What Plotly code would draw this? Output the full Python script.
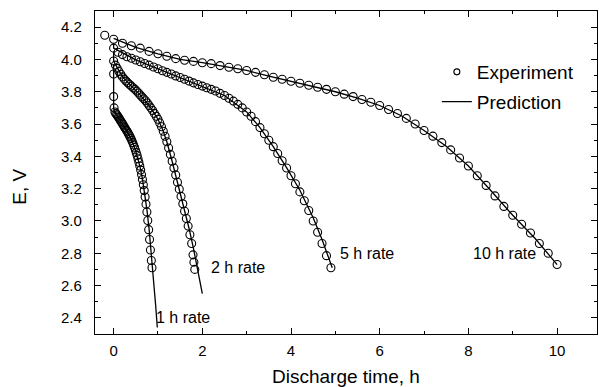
import plotly.graph_objects as go

# ---------------- data ----------------
# 10 h rate, experiment
t10_exp = [-0.2, 0.0, 0.2, 0.4, 0.6, 0.8, 1.0, 1.2, 1.4, 1.6, 1.8, 2.0, 2.2, 2.4, 2.6, 2.8,
           3.0, 3.2, 3.4, 3.6, 3.8, 4.0, 4.2, 4.4, 4.6, 4.8, 5.0, 5.2, 5.4, 5.6, 5.8, 6.0,
           6.2, 6.4, 6.6, 6.8, 7.0, 7.2, 7.4, 7.6, 7.8, 8.0, 8.2, 8.4, 8.6, 8.8, 9.0, 9.2,
           9.4, 9.6, 9.8, 10.0]
e10_exp = [4.15, 4.125, 4.10, 4.085, 4.07, 4.05, 4.035, 4.02, 4.005, 3.995, 3.988, 3.98,
           3.974, 3.962, 3.952, 3.942, 3.932, 3.92, 3.905, 3.89, 3.877, 3.865, 3.853, 3.84,
           3.828, 3.815, 3.80, 3.785, 3.77, 3.752, 3.735, 3.715, 3.69, 3.665, 3.635, 3.60,
           3.56, 3.525, 3.485, 3.44, 3.39, 3.34, 3.28, 3.22, 3.155, 3.09, 3.035, 2.98, 2.925,
           2.86, 2.80, 2.73]

# 5 h rate, experiment
t5_exp = [0.0, 0.1, 0.2, 0.3, 0.4, 0.5, 0.6, 0.7, 0.8, 0.9, 1.0, 1.1, 1.2, 1.3, 1.4, 1.5,
          1.6, 1.7, 1.8, 1.9, 2.0, 2.1, 2.2, 2.3, 2.4, 2.5, 2.6, 2.7, 2.8, 2.9, 3.0, 3.1,
          3.2, 3.3, 3.4, 3.5, 3.6, 3.7, 3.8, 3.9, 4.0, 4.1, 4.2, 4.3, 4.4, 4.5, 4.6, 4.7,
          4.8, 4.9]
e5_exp = [4.07, 4.045, 4.03, 4.017, 4.007, 3.997, 3.986, 3.975, 3.965, 3.953, 3.942, 3.93,
          3.92, 3.91, 3.898, 3.888, 3.877, 3.866, 3.855, 3.845, 3.835, 3.825, 3.815, 3.805,
          3.79, 3.777, 3.76, 3.742, 3.722, 3.70, 3.675, 3.648, 3.615, 3.578, 3.54, 3.50,
          3.46, 3.418, 3.373, 3.328, 3.28, 3.23, 3.18, 3.125, 3.065, 3.0, 2.93, 2.86, 2.785,
          2.71]

# 2 h rate, experiment
t2_exp = [0.00, 0.04, 0.08, 0.12, 0.16, 0.20, 0.24, 0.28, 0.32, 0.36, 0.40, 0.44, 0.48,
          0.52, 0.56, 0.60, 0.64, 0.68, 0.72, 0.76, 0.80, 0.84, 0.88, 0.92, 0.96, 1.00,
          1.04, 1.08, 1.12, 1.16, 1.20, 1.24, 1.28, 1.32, 1.36, 1.40, 1.44, 1.48, 1.52,
          1.56, 1.60, 1.64, 1.68, 1.72, 1.76, 1.79, 1.81, 1.83]
e2_exp = [3.99, 3.965, 3.945, 3.925, 3.908, 3.892, 3.878, 3.866, 3.855, 3.845, 3.835, 3.825,
          3.815, 3.804, 3.792, 3.78, 3.768, 3.756, 3.744, 3.73, 3.715, 3.70, 3.684, 3.666,
          3.648, 3.63, 3.607, 3.583, 3.555, 3.524, 3.49, 3.452, 3.412, 3.37, 3.328, 3.285,
          3.24, 3.197, 3.152, 3.106, 3.06, 3.015, 2.968, 2.915, 2.86, 2.79, 2.745, 2.70]

# 1 h rate, experiment
t1_exp = [0.00, 0.00, 0.01, 0.03, 0.05, 0.07, 0.09, 0.11, 0.13, 0.15, 0.17, 0.19, 0.21,
          0.23, 0.25, 0.27, 0.29, 0.31, 0.33, 0.35, 0.37, 0.39, 0.41, 0.43, 0.45, 0.47,
          0.49, 0.51, 0.53, 0.55, 0.57, 0.59, 0.61, 0.63, 0.65, 0.67, 0.69, 0.71, 0.73,
          0.75, 0.77, 0.79, 0.81, 0.83, 0.85, 0.865]
e1_exp = [3.91, 3.77, 3.70, 3.675, 3.665, 3.658, 3.65, 3.642, 3.633, 3.624, 3.615, 3.606,
          3.597, 3.588, 3.579, 3.57, 3.561, 3.552, 3.542, 3.532, 3.521, 3.51, 3.498, 3.485,
          3.471, 3.456, 3.44, 3.423, 3.405, 3.385, 3.363, 3.34, 3.315, 3.287, 3.257, 3.224,
          3.188, 3.148, 3.104, 3.056, 3.003, 2.946, 2.885, 2.82, 2.755, 2.71]

# predictions
t10_pred = [0.0, 0.5, 1.0, 1.5, 2.0, 2.5, 3.0, 3.5, 4.0, 4.5, 5.0, 5.5, 6.0, 6.5, 7.0, 7.5,
            8.0, 8.5, 9.0, 9.5, 10.0]
e10_pred = [4.13, 4.075, 4.035, 4.0, 3.98, 3.957, 3.932, 3.897, 3.865, 3.834, 3.80, 3.761,
            3.715, 3.65, 3.56, 3.462, 3.34, 3.19, 3.035, 2.893, 2.73]

t5_pred = [0.0, 0.0, 0.5, 1.0, 1.5, 2.0, 2.5, 3.0, 3.3, 3.6, 3.9, 4.2, 4.5, 4.7, 4.93]
e5_pred = [4.10, 4.07, 3.997, 3.942, 3.888, 3.835, 3.777, 3.675, 3.578, 3.46, 3.33, 3.19,
           3.02, 2.885, 2.71]

t2_pred = [0.0, 0.0, 0.1, 0.2, 0.4, 0.6, 0.8, 1.0, 1.1, 1.2, 1.3, 1.4, 1.5, 1.6, 1.7, 1.8,
           1.9, 2.0]
e2_pred = [4.05, 3.99, 3.94, 3.892, 3.835, 3.78, 3.715, 3.63, 3.57, 3.49, 3.39, 3.285,
           3.175, 3.065, 2.955, 2.83, 2.69, 2.55]

t1_pred = [0.0, 0.0, 0.02, 0.05, 0.1, 0.2, 0.3, 0.4, 0.5, 0.6, 0.65, 0.7, 0.75, 0.8, 0.85,
           0.87, 0.91, 0.95, 0.985]
e1_pred = [3.97, 3.70, 3.675, 3.663, 3.646, 3.60, 3.556, 3.505, 3.432, 3.33, 3.26, 3.17,
           3.07, 2.95, 2.80, 2.73, 2.60, 2.47, 2.34]

rate_labels = ["1 h rate", "2 h rate", "5 h rate", "10 h rate"]
label_x = [0.90, 2.14, 5.05, 8.06]
label_y = [2.40, 2.712, 2.80, 2.80]

x_ticks = [0, 2, 4, 6, 8, 10]
y_ticks = [2.4, 2.6, 2.8, 3.0, 3.2, 3.4, 3.6, 3.8, 4.0, 4.2]

FONT = "Liberation Sans, Arial, sans-serif"

fig = go.Figure()

for tx, ey in [(t10_exp, e10_exp), (t5_exp, e5_exp), (t2_exp, e2_exp), (t1_exp, e1_exp)]:
    fig.add_trace(go.Scatter(x=tx, y=ey, mode="markers", showlegend=False,
                             marker=dict(symbol="circle-open", size=8, color="black",
                                         line=dict(width=1.1, color="black"))))

for tx, ey in [(t10_pred, e10_pred), (t5_pred, e5_pred), (t2_pred, e2_pred), (t1_pred, e1_pred)]:
    fig.add_trace(go.Scatter(x=tx, y=ey, mode="lines", showlegend=False,
                             line=dict(color="black", width=1.3)))

# legend entries
fig.add_trace(go.Scatter(x=[None], y=[None], mode="markers", name="Experiment",
                         legendgroup="a",
                         marker=dict(symbol="circle-open", size=6, color="black",
                                     line=dict(width=1.1, color="black"))))
fig.add_trace(go.Scatter(x=[None], y=[None], mode="lines", name="Prediction",
                         legendgroup="b", line=dict(color="black", width=1.3)))

for txt, lx, ly in zip(rate_labels, label_x, label_y):
    fig.add_annotation(x=lx, y=ly, text=txt, showarrow=False, xanchor="left",
                       yanchor="middle", font=dict(family=FONT, size=16, color="black"))

# axis titles
fig.add_annotation(xref="paper", yref="paper", x=0.5, y=-0.133, text="Discharge time, h",
                   showarrow=False, xanchor="center", yanchor="middle",
                   font=dict(family=FONT, size=19, color="black"))
fig.add_annotation(xref="paper", yref="paper", x=-0.152, y=0.455, text="E, V", textangle=-90,
                   showarrow=False, xanchor="center", yanchor="middle",
                   font=dict(family=FONT, size=19, color="black"))

axis_common = dict(showgrid=False, zeroline=False, showline=True, linecolor="black",
                   linewidth=1.3, mirror="ticks", ticks="inside", ticklen=6, tickwidth=1.2,
                   tickcolor="black", tickfont=dict(family=FONT, size=15, color="black"))

fig.update_xaxes(range=[-0.42, 10.9], tickvals=x_ticks, ticklabelstandoff=3,
                 minor=dict(dtick=1, tick0=0, ticks="inside", ticklen=3, tickwidth=1.1,
                            tickcolor="black"),
                 **axis_common)
fig.update_yaxes(range=[2.3, 4.3], tickvals=y_ticks, tickformat=".1f", ticklabelstandoff=9,
                 minor=dict(dtick=0.1, tick0=2.3, ticks="inside", ticklen=3, tickwidth=1.1,
                            tickcolor="black"),
                 **axis_common)

fig.update_layout(
    width=599, height=387,
    margin=dict(l=95, r=2, t=11, b=53),
    paper_bgcolor="white", plot_bgcolor="white",
    font=dict(family=FONT, color="black"),
    legend=dict(x=0.681, y=0.87, xanchor="left", yanchor="top", bgcolor="rgba(0,0,0,0)",
                font=dict(family=FONT, size=19, color="black"), tracegroupgap=2,
                traceorder="grouped"),
)

fig.write_html("out.html")
